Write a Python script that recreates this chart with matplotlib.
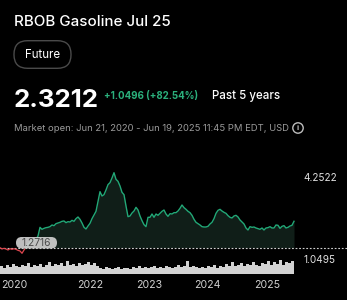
import numpy as np
import pandas as pd
import matplotlib
matplotlib.use("Agg")
import matplotlib.pyplot as plt
import matplotlib.dates as mdates
from matplotlib.patches import FancyBboxPatch, Circle
from matplotlib.transforms import IdentityTransform

# ---------------- data ----------------
title = "RBOB Gasoline Jul 25"
instrument_type = "Future"
last_price = 2.3212
change_text = "+1.0496 (+82.54%)"
period_text = "Past 5 years"
market_text = "Market open: Jun 21, 2020 - Jun 19, 2025 11:45 PM EDT, USD"
start_date = "2020-06-21"
end_date = "2025-06-19"
base_price = 1.2716
max_label = "4.2522"
min_label = "1.0495"

prices = [
    1.2716, 1.220, 1.247, 1.220, 1.180, 1.233, 1.207, 1.233, 1.207, 1.167,
    1.141, 1.0495, 1.180, 1.286, 1.406, 1.485, 1.538, 1.578, 1.604, 1.737,
    2.081, 2.002, 2.041, 2.068, 2.081, 2.108, 2.174, 2.147, 2.227, 2.253,
    2.280, 2.320, 2.333, 2.267, 2.306, 2.293, 2.359, 2.320, 2.426, 2.492,
    2.399, 2.253, 2.081, 2.015, 2.134, 2.240, 2.426, 2.571, 2.717, 3.101,
    3.499, 3.326, 3.379, 3.565, 3.777, 3.856, 4.042, 4.2522, 3.989, 3.909,
    3.724, 3.472, 3.379, 2.929, 2.505, 2.532, 2.651, 2.730, 2.876, 2.770,
    2.532, 2.346, 2.187, 2.108, 2.479, 2.479, 2.611, 2.479, 2.611, 2.558,
    2.637, 2.717, 2.770, 2.611, 2.518, 2.624, 2.611, 2.664, 2.664, 2.730,
    2.836, 2.969, 2.863, 2.796, 2.717, 2.664, 2.558, 2.399, 2.280, 2.227,
    2.174, 2.108, 2.094, 2.094, 2.121, 2.214, 2.280, 2.426, 2.637, 2.757,
    2.796, 2.730, 2.677, 2.637, 2.545, 2.479, 2.452, 2.532, 2.558, 2.492,
    2.373, 2.293, 2.214, 2.055, 1.975, 2.108, 2.081, 2.094, 2.055, 2.028,
    2.002, 2.055, 1.975, 2.055, 2.068, 2.108, 2.055, 2.055, 2.174, 2.161,
    2.041, 2.121, 2.147, 2.055, 2.081, 2.134, 2.161, 2.3212,
]

volumes = [
    8, 6, 9, 7, 10, 8, 7, 9, 8, 11, 7, 9, 8, 10, 7, 9, 12, 8, 10, 9, 11, 8, 13,
    9, 10, 8, 11, 9, 10, 12, 9, 11, 8,
    6, 5, 7, 6, 5, 6, 7, 5, 6, 6, 5, 7, 6, 8, 6, 7, 6, 7, 8, 6, 7, 6, 8, 7, 6,
    7, 9, 7, 8, 13, 7, 8, 7,
    6, 7, 6, 8, 7, 9, 6, 8, 7, 10, 8, 12, 8, 9, 11, 8, 10, 9, 12, 9, 8, 11, 10,
    13, 9, 12, 10, 14, 9, 12, 11, 13,
]

year_labels = ["2020", "2022", "2023", "2024", "2025"]
year_dates = [start_date, "2022-01-01", "2023-01-01", "2024-01-01", "2025-01-01"]

# ---------------- style ----------------
W, H = 347, 300
BG = "#000000"
GREEN = "#22a877"
RED = "#e0464f"
FILL = "#101e18"
FONT = ["Inter", "DejaVu Sans"]
plt.rcParams["font.family"] = FONT

fig = plt.figure(figsize=(W / 100, H / 100), dpi=100, facecolor=BG)


def fx(px):
    return px / W


def fy(py):
    return 1 - py / H


# ---------------- header ----------------
fig.text(fx(14), fy(26), title, color="white", fontsize=10.9, fontweight="medium",
         va="baseline", ha="left")

pill = FancyBboxPatch((14, H - 68.3), 57, 27.6,
                      boxstyle="round,pad=0,rounding_size=13.5",
                      facecolor=BG, edgecolor="#4a4a4a", linewidth=1.0,
                      transform=IdentityTransform())
fig.patches.append(pill)
fig.text(fx(42.5), fy(54.5), instrument_type, color="white", fontsize=8.3,
         va="center", ha="center")

fig.text(fx(13.5), fy(107), f"{last_price:.4f}", color="white", fontsize=18.6,
         fontweight="bold", va="baseline", ha="left")
fig.text(fx(104), fy(99), change_text, color="#2bb07c", fontsize=7.0,
         fontweight="bold", va="baseline", ha="left")
fig.text(fx(212), fy(99), period_text, color="white", fontsize=8.3,
         fontweight="medium", va="baseline", ha="left")

fig.text(fx(14), fy(128), market_text, color="#9a9a9a", fontsize=6.8,
         va="center", ha="left")
icon = Circle((298, H - 128), 5.2, facecolor="none", edgecolor="#bdbdbd",
              linewidth=1.0, transform=IdentityTransform())
fig.patches.append(icon)
fig.text(fx(298), fy(128.3), "i", color="#bdbdbd", fontsize=5.6, fontweight="bold",
         va="center", ha="center")

# ---------------- price chart ----------------
dates = pd.date_range(start_date, end_date, periods=len(prices))
xn = mdates.date2num(dates)
p = np.array(prices)

px_per_day = 294.0 / (xn[-1] - xn[0])
x_left = xn[0]
x_right = xn[0] + W / px_per_day

# price scale: base at y=247.7 px, max 4.2522 at y=172.7 px
ppx = (max(prices) - base_price) / 75.0
y_bot_px, y_top_px = 275.0, 165.0
ylo = base_price - (y_bot_px - 247.7) * ppx
yhi = base_price + (247.7 - y_top_px) * ppx

ax = fig.add_axes([0, fy(y_bot_px), 1, (y_bot_px - y_top_px) / H])
ax.set_facecolor("none")
ax.set_xlim(x_left, x_right)
ax.set_ylim(ylo, yhi)
ax.axis("off")

# split red/green at first crossing above baseline
k = next(i for i in range(1, len(p)) if p[i] > base_price)
t = (base_price - p[k - 1]) / (p[k] - p[k - 1])
xc = xn[k - 1] + t * (xn[k] - xn[k - 1])
red_x = np.r_[xn[:k], xc]
red_y = np.r_[p[:k], base_price]
grn_x = np.r_[xc, xn[k:]]
grn_y = np.r_[base_price, p[k:]]

ax.fill_between(grn_x, grn_y, base_price, color=FILL, linewidth=0, zorder=1)
ax.plot(red_x, red_y, color=RED, lw=0.9, zorder=3, solid_joinstyle="round")
ax.plot(grn_x, grn_y, color=GREEN, lw=1.0, zorder=3, solid_joinstyle="round")
ax.axhline(base_price, color="#cfcfcf", lw=0.8, dashes=(1.6, 1.6), zorder=2)

box = FancyBboxPatch((16, H - 248.5), 41, 11.5,
                     boxstyle="round,pad=0,rounding_size=5.7",
                     facecolor="#d0d0d0", edgecolor="none", alpha=0.92,
                     transform=IdentityTransform(), zorder=5)
box.set_clip_on(False)
ax.add_artist(box)
ax.text(fx(36.5), (y_bot_px - 242.8) / (y_bot_px - y_top_px), f"{base_price:.4f}",
        transform=ax.transAxes, ha="center", va="center",
        fontsize=7.4, color="#4a4a4a", zorder=6)

fig.text(fx(303), fy(178), max_label, color="#e0e0e0", fontsize=7.2,
         va="center", ha="left")
fig.text(fx(303), fy(260), min_label, color="#e0e0e0", fontsize=7.2,
         va="center", ha="left")

# ---------------- volume ----------------
vax = fig.add_axes([0, fy(274.3), 1, 20 / H])
vax.set_facecolor("none")
vax.set_xlim(x_left, x_right)
vax.set_ylim(0, 20)
vax.axis("off")
vdates = np.linspace(xn[0], xn[-1], len(volumes) + 1)
vwidth = vdates[1] - vdates[0]
vax.bar(vdates[:-1], volumes, width=vwidth, align="edge", color="#d2d2d2",
        linewidth=0)

# ---------------- year labels ----------------
for lab, d in zip(year_labels, year_dates):
    xd = mdates.date2num(pd.Timestamp(d))
    ha = "left" if d == start_date else "center"
    xpix = (xd - x_left) * px_per_day + (1 if ha == "left" else 0)
    fig.text(fx(xpix), fy(285), lab, color="#d0d0d0", fontsize=7.6,
             va="center", ha=ha)

fig.savefig("out.png", dpi=100, facecolor=BG)
